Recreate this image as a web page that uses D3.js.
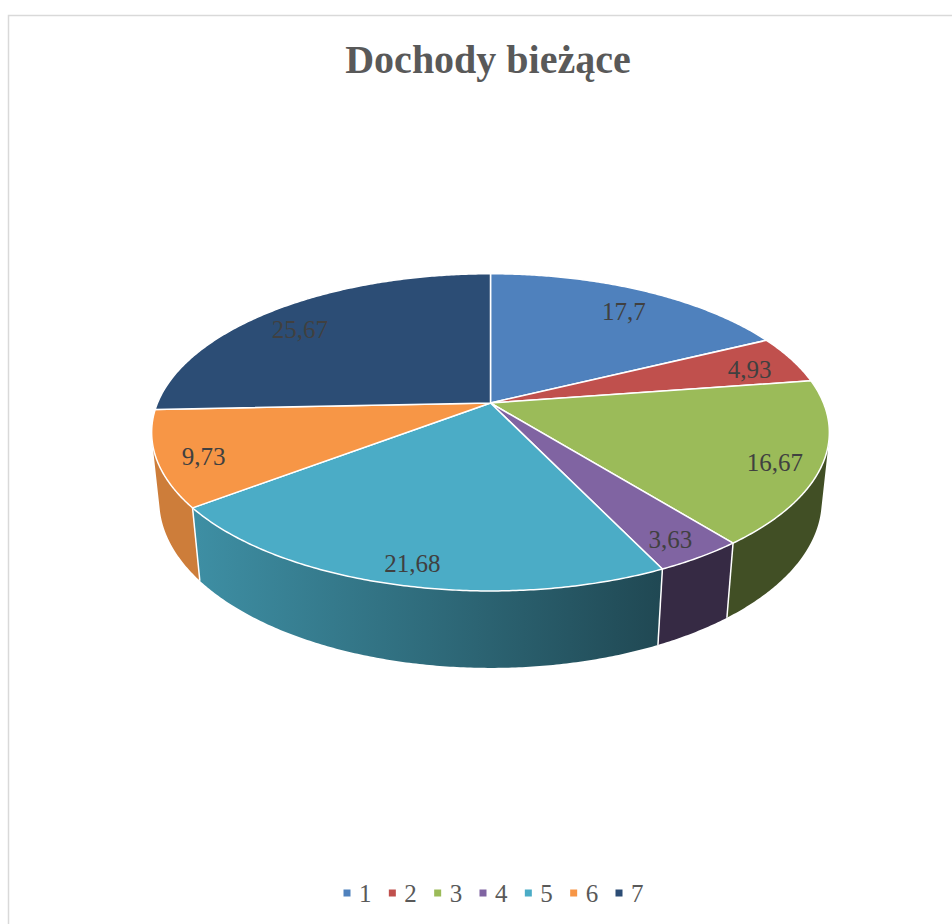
<!DOCTYPE html>
<html>
<head>
<meta charset="utf-8">
<script src="https://cdn.jsdelivr.net/npm/d3@7"></script>
<style>
  body { margin: 0; background: #fff; }
  svg { display: block; }
</style>
</head>
<body>
<svg id="chart"></svg>
<script>
const title = "Dochody bieżące";
const categories = ["1", "2", "3", "4", "5", "6", "7"];
const values = [17.7, 4.93, 16.67, 3.63, 21.68, 9.73, 25.67];
const labels = ["17,7", "4,93", "16,67", "3,63", "21,68", "9,73", "25,67"];
const colors = ["#4f81bd", "#c0504d", "#9bbb59", "#8064a2", "#4bacc6", "#f79646", "#2c4d75"];

const w = 952, h = 924;
const svg = d3.select("#chart").attr("width", w).attr("height", h);
const defs = svg.append("defs");

// chart frame (runs off the right and bottom edge)
svg.append("rect")
    .attr("x", 8.5).attr("y", 15.5)
    .attr("width", 970).attr("height", 930)
    .attr("fill", "#fff")
    .attr("stroke", "#d9d9d9")
    .attr("stroke-width", 1.5);

svg.append("text")
    .attr("x", 488).attr("y", 73)
    .attr("text-anchor", "middle")
    .attr("font-family", "'Liberation Serif', serif")
    .attr("font-weight", "bold")
    .attr("font-size", 40)
    .attr("fill", "#595959")
    .text(title);

// 3d pie: perspective projection of a tilted disc
const cx = 490.5, cy = 403, k = 333;
const D = 4.8, sinA = 0.46, cosA = 0.888, depth = 0.232;

function project(theta, r, hgt) {
    const u = r * Math.sin(theta), v = r * Math.cos(theta);
    const yc = hgt * cosA + v * sinA;
    const zc = D - hgt * sinA + v * cosA;
    return [cx + k * u * D / zc, cy - k * yc * D / zc];
}

const color = d3.scaleOrdinal().domain(categories).range(colors);

const pie = d3.pie().sort(null).value(d => d)(values);
const step = Math.PI / 360;

function shade(c, f) {
    const col = d3.rgb(c);
    return d3.rgb(col.r * f, col.g * f, col.b * f).formatHex();
}

function arcPoints(a0, a1, hgt) {
    const n = Math.max(2, Math.ceil((a1 - a0) / step));
    return d3.range(n + 1).map(j => project(a0 + (a1 - a0) * j / n, 1, hgt));
}

// side wall is visible where cos(theta) < -1/(D*cosA)
const visLimit = Math.acos(-1 / (D * cosA));
const visFrom = visLimit, visTo = 2 * Math.PI - visLimit;

// light from the left: gradient across the front wall
const gx1 = project(Math.PI + Math.asin(0.794), 1, 0)[0];
const gx2 = project(Math.PI - Math.asin(0.43), 1, 0)[0];

const sides = svg.append("g");
pie.forEach((p, i) => {
    const a0 = Math.max(p.startAngle, visFrom);
    const a1 = Math.min(p.endAngle, visTo);
    if (a1 <= a0) return;
    const c = color(categories[i]);
    const grad = defs.append("linearGradient")
        .attr("id", "side" + i)
        .attr("gradientUnits", "userSpaceOnUse")
        .attr("x1", gx1).attr("y1", 0)
        .attr("x2", gx2).attr("y2", 0);
    grad.append("stop").attr("offset", 0).attr("stop-color", shade(c, 0.83));
    grad.append("stop").attr("offset", 1).attr("stop-color", shade(c, 0.42));
    const pts = arcPoints(a0, a1, 0).concat(arcPoints(a0, a1, -depth).reverse());
    sides.append("path")
        .attr("d", "M" + pts.join("L") + "Z")
        .attr("fill", "url(#side" + i + ")");
});
// white edges between side walls
pie.forEach(p => {
    const t = p.startAngle;
    if (t > visFrom && t < visTo) {
        const a = project(t, 1, 0), b = project(t, 1, -depth);
        sides.append("line")
            .attr("x1", a[0]).attr("y1", a[1])
            .attr("x2", b[0]).attr("y2", b[1])
            .attr("stroke", "#fff").attr("stroke-width", 1.5);
    }
});

// top faces
const tops = svg.append("g");
pie.forEach((p, i) => {
    const pts = [project(0, 0, 0)].concat(arcPoints(p.startAngle, p.endAngle, 0));
    tops.append("path")
        .attr("d", "M" + pts.join("L") + "Z")
        .attr("fill", color(categories[i]))
        .attr("stroke", "#fff")
        .attr("stroke-width", 1.5)
        .attr("stroke-linejoin", "round");
});

// data labels: placed on the projected ellipse, at the mid angle of each slice's rim
const rim = arcPoints(0, 2 * Math.PI, 0);
const ex = d3.extent(rim, d => d[0]), ey = d3.extent(rim, d => d[1]);
const ecx = (ex[0] + ex[1]) / 2, ecy = (ey[0] + ey[1]) / 2;
const erx = (ex[1] - ex[0]) / 2, ery = (ey[1] - ey[0]) / 2;
function ellAngle(theta) {
    const q = project(theta, 1, 0);
    let a = Math.atan2((q[0] - ecx) / erx, -(q[1] - ecy) / ery);
    return a;
}
function labelPos(d) {
    let b0 = ellAngle(d.startAngle), b1 = ellAngle(d.endAngle);
    while (b0 < 0) b0 += 2 * Math.PI;
    while (b1 <= b0) b1 += 2 * Math.PI;
    const m = (b0 + b1) / 2;
    return [ecx + 0.86 * erx * Math.sin(m), ecy - 0.86 * ery * Math.cos(m)];
}

svg.append("g").selectAll("text")
    .data(pie)
    .enter()
    .append("text")
    .attr("x", d => labelPos(d)[0])
    .attr("y", d => labelPos(d)[1])
    .attr("text-anchor", "middle")
    .attr("dominant-baseline", "central")
    .attr("font-family", "'Liberation Serif', serif")
    .attr("font-size", 25)
    .attr("fill", "#404040")
    .text((d, i) => labels[i]);

// legend
const lx = d3.scalePoint().domain(categories).range([347, 619]);
const legend = svg.append("g").selectAll("g")
    .data(categories)
    .enter()
    .append("g")
    .attr("transform", d => "translate(" + lx(d) + ",893)");
legend.append("rect")
    .attr("x", -3.5).attr("y", -3.5)
    .attr("width", 7).attr("height", 7)
    .attr("fill", d => color(d));
legend.append("text")
    .attr("x", 12).attr("y", 9)
    .attr("font-family", "'Liberation Serif', serif")
    .attr("font-size", 25)
    .attr("fill", "#595959")
    .text(d => d);
</script>
</body>
</html>
